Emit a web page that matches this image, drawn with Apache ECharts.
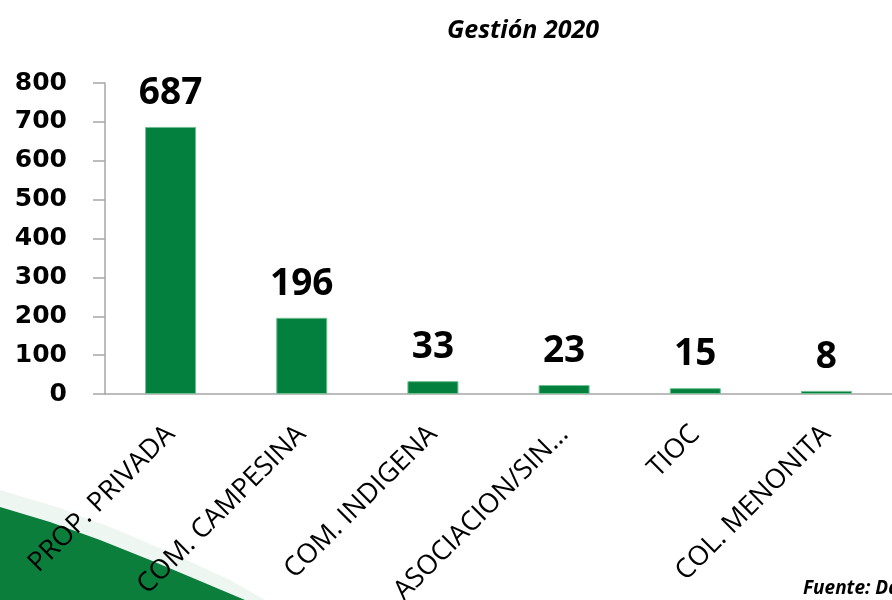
<!DOCTYPE html>
<html>
<head>
<meta charset="utf-8">
<script src="https://cdn.jsdelivr.net/npm/echarts@6/dist/echarts.min.js"></script>
<style>
  html, body { margin: 0; padding: 0; background: #fff; }
  #container { width: 892px; height: 600px; }
</style>
</head>
<body>
<div id="container"></div>
<script>
var categories = ['PROP. PRIVADA', 'COM. CAMPESINA', 'COM. INDIGENA', 'ASOCIACION/SIN...', 'TIOC', 'COL. MENONITA'];
var values = [687, 196, 33, 23, 15, 8];
var yTicks = [0, 800, 100];

var dom = document.getElementById('container');
var chart = echarts.init(dom, null, { renderer: 'canvas' });

var green = '#037f3e';
var axisGrey = '#a6a6a6';

var option = {
    backgroundColor: '#ffffff',
    animation: false,
    title: {
        text: 'Gestión 2020',
        left: 518,
        top: 13,
        textAlign: 'center',
        textStyle: {
            fontFamily: 'Open Sans',
            fontStyle: 'italic',
            fontWeight: 'bold',
            fontSize: 25,
            color: '#000'
        }
    },
    grid: {
        left: 105,
        right: 0,
        top: 83,
        bottom: 206,
        containLabel: false,
        outerBoundsMode: 'none'
    },
    xAxis: {
        type: 'category',
        data: categories,
        axisLine: { lineStyle: { color: axisGrey, width: 1.5 } },
        axisTick: { length: 11, lineStyle: { color: axisGrey, width: 1.5 } },
        axisLabel: {
            rotate: 45,
            interval: 0,
            margin: 36,
            fontFamily: 'Open Sans',
            fontSize: 27,
            color: '#000'
        }
    },
    yAxis: {
        type: 'value',
        min: yTicks[0],
        max: yTicks[1],
        interval: yTicks[2],
        splitLine: { show: false },
        axisLine: { show: true, lineStyle: { color: axisGrey, width: 1.5 } },
        axisTick: { show: true, length: 12, lineStyle: { color: axisGrey, width: 1.5 } },
        axisLabel: {
            margin: 38,
            fontFamily: 'DejaVu Sans',
            fontWeight: 'bold',
            fontSize: 25,
            color: '#000'
        }
    },
    series: [
        {
            type: 'bar',
            data: values,
            barWidth: 51,
            itemStyle: {
                color: green,
                borderColor: '#6fbf8f',
                borderWidth: 1
            },
            label: {
                show: true,
                position: 'top',
                distance: 15,
                fontFamily: 'Open Sans',
                fontWeight: 'bold',
                fontSize: 37,
                color: '#000'
            }
        }
    ],
    graphic: [
        // pale band above the green swoosh
        {
            type: 'polygon',
            z: -1,
            shape: {
                points: [[0, 490], [60, 508], [120, 531], [180, 557], [230, 580], [265, 600], [0, 600]]
            },
            style: { fill: '#eef6f1' }
        },
        // green swoosh in the bottom-left corner
        {
            type: 'polygon',
            z: -1,
            shape: {
                points: [[0, 507], [50, 522], [100, 540], [150, 560], [200, 581], [245, 600], [0, 600]]
            },
            style: { fill: '#0a7e3a' }
        },
        {
            type: 'text',
            left: 803,
            top: 579,
            style: {
                text: 'Fuente: Datos',
                fontFamily: 'Open Sans',
                fontStyle: 'italic',
                fontWeight: 'bold',
                fontSize: 19,
                fill: '#000'
            }
        }
    ]
};

chart.setOption(option);
window.addEventListener('resize', chart.resize);
</script>
</body>
</html>
